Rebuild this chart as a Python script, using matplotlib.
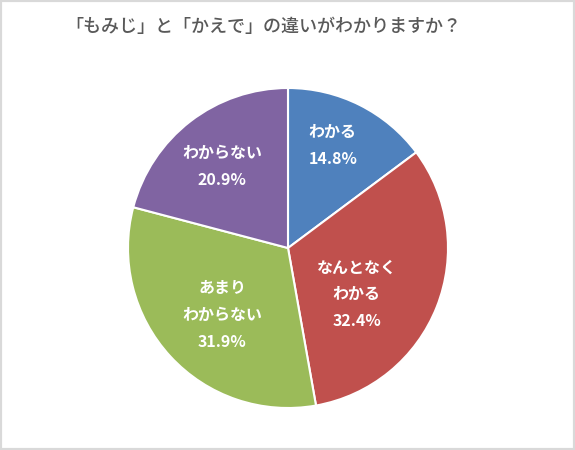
import matplotlib.pyplot as plt
from matplotlib.patches import Rectangle

plt.rcParams['font.family'] = ['Noto Sans CJK JP', 'DejaVu Sans']

labels = ['わかる', 'なんとなく\nわかる', 'あまり\nわからない', 'わからない']
values = [14.8, 32.4, 31.9, 20.9]
colors = ['#4F81BD', '#C0504D', '#9BBB59', '#8064A2']
# label centres in pie units (radius = 1)
label_pos = [(0.28, 0.64), (0.43, -0.29), (-0.41, -0.42), (-0.41, 0.51)]

fig = plt.figure(figsize=(5.75, 4.5), dpi=100)
fig.patches.append(Rectangle((0, 0), 1, 1, transform=fig.transFigure,
                             fill=False, edgecolor='#d9d9d9', linewidth=3))

# pie: centre (288, 248) px, radius 160 px
ax = fig.add_axes([128 / 575, 42 / 450, 320 / 575, 320 / 450])
ax.pie(values, colors=colors, startangle=90, counterclock=False,
       wedgeprops=dict(edgecolor='white', linewidth=1.5))
ax.set_xlim(-1, 1)
ax.set_ylim(-1, 1)
ax.set_aspect('equal')
ax.axis('off')

for lab, val, (x, y) in zip(labels, values, label_pos):
    ax.text(x, y, f'{lab}\n{val}%', ha='center', va='center', color='white',
            fontsize=11.5, fontweight='bold', linespacing=1.85)

fig.text(263 / 575, 1 - 27 / 450, '「もみじ」と「かえで」の違いがわかりますか？',
         ha='center', va='center', fontsize=13, color='#595959',
         fontweight='medium')

fig.savefig('out.png', dpi=100)
